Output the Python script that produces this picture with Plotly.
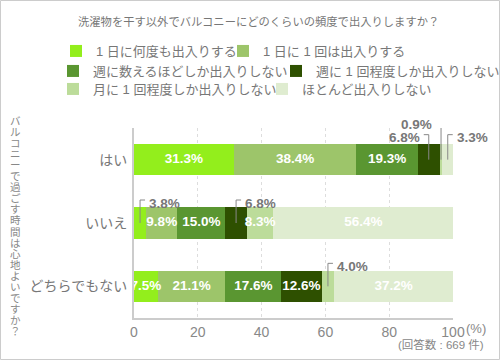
import plotly.graph_objects as go

# ---------------- data ----------------
categories = ["はい", "いいえ", "どちらでもない"]
series_names = [
    "1 日に何度も出入りする",
    "1 日に 1 回は出入りする",
    "週に数えるほどしか出入りしない",
    "週に 1 回程度しか出入りしない",
    "月に 1 回程度しか出入りしない",
    "ほとんど出入りしない",
]
s1_values = [31.3, 3.8, 7.5]
s2_values = [38.4, 9.8, 21.1]
s3_values = [19.3, 15.0, 17.6]
s4_values = [6.8, 6.8, 12.6]
s5_values = [0.9, 8.3, 4.0]
s6_values = [3.3, 56.4, 37.2]
series_values = [s1_values, s2_values, s3_values, s4_values, s5_values, s6_values]

x_tick_values = [0, 20, 40, 60, 80, 100]
x_tick_labels = ["0", "20", "40", "60", "80", "100"]

title_text = "洗濯物を干す以外でバルコニーにどのくらいの頻度で出入りしますか？"
y_title_text = "バルコニーで過ごす時間は心地よいですか？"
x_unit_text = "(%)"
note_text = "(回答数 : 669 件)"

# ---------------- style ----------------
colors = ["#93ee1c", "#9dc56a", "#5a9631", "#2e5000", "#bcdc9a", "#dfecd0"]
FONT = "Liberation Sans, Noto Sans CJK JP, sans-serif"
GRAY = "#777777"
L, R, T, B = 134, 47, 128, 42
W, H = 500, 360
PW, PH = W - L - R, H - T - B
# one legend box per entry, placed in a flowing 3-row layout (left px, row centre px)
legend_slots = [(56, 51), (223, 51), (53, 71), (276, 71), (53, 89), (262, 89)]


def px_x(px):
    return (px - L) / PW


def px_y(py):
    return (T + PH - py) / PH


# labels drawn outside the bar: (category index, series index, side, rise in px)
outside_labels = [
    (0, 3, "left", 22),
    (0, 4, "left", 35),
    (0, 5, "right", 22),
    (1, 0, "right", 20),
    (1, 3, "right", 20),
    (2, 4, "right", 20),
]
outside_keys = {(c, s) for c, s, _, _ in outside_labels}

fig = go.Figure()

legend_ids = ["legend"] + [f"legend{i}" for i in range(2, len(series_names) + 1)]

# stacked bars
for si, (name, vals) in enumerate(zip(series_names, series_values)):
    fig.add_trace(go.Bar(
        y=categories, x=vals, orientation="h", name=name,
        marker=dict(color=colors[si], line=dict(width=0)),
        legend=legend_ids[si], hoverinfo="x+name",
    ))

# segment midpoints
mids = {}
for ci in range(len(categories)):
    acc = 0.0
    for si, vals in enumerate(series_values):
        mids[(ci, si)] = acc + vals[ci] / 2
        acc += vals[ci]

# inside labels
in_x, in_y, in_t = [], [], []
for ci, cat in enumerate(categories):
    for si, vals in enumerate(series_values):
        if (ci, si) in outside_keys:
            continue
        in_x.append(mids[(ci, si)])
        in_y.append(cat)
        in_t.append(f"{vals[ci]:.1f}%")
fig.add_trace(go.Scatter(
    x=in_x, y=in_y, text=in_t, mode="text", showlegend=False, hoverinfo="skip",
    textfont=dict(family=FONT, size=13.5, color="white", weight="bold"),
    cliponaxis=False,
))

# outside labels with leader lines
shapes = []
annotations = []
for ci, si, side, rise in outside_labels:
    xm = mids[(ci, si)]
    v = series_values[si][ci]
    if side == "right":
        path = f"M0,0 L0,{rise + 3} L5,{rise + 3}"
        xanchor, xshift = "left", 7
    else:
        path = f"M0,0 L0,{rise + 3} L-5,{rise + 3}"
        xanchor, xshift = "right", -7
    shapes.append(dict(
        type="path", xref="x", yref="y", xsizemode="pixel", ysizemode="pixel",
        xanchor=xm, yanchor=ci, path=path,
        line=dict(color="#888888", width=1),
    ))
    annotations.append(dict(
        x=xm, y=ci, xref="x", yref="y", text=f"{v:.1f}%", showarrow=False,
        xanchor=xanchor, yanchor="middle", xshift=xshift, yshift=rise,
        font=dict(family=FONT, size=13.5, color=GRAY, weight="bold"),
    ))

# vertical y-axis title (upright characters)
for i, ch in enumerate(y_title_text):
    annotations.append(dict(
        x=px_x(15), y=px_y(120.5 + 11.1 * i), xref="paper", yref="paper",
        text=ch, showarrow=False, xanchor="center", yanchor="middle",
        font=dict(family=FONT, size=10.5, color="#888888"),
    ))

# unit and note
annotations.append(dict(
    x=100, y=px_y(328), xref="x", yref="paper", text=x_unit_text, showarrow=False,
    xanchor="left", yanchor="middle", xshift=11,
    font=dict(family=FONT, size=13, color="#888888"),
))
annotations.append(dict(
    x=px_x(486), y=px_y(344), xref="paper", yref="paper", text=note_text, showarrow=False,
    xanchor="right", yanchor="middle",
    font=dict(family=FONT, size=11.5, color="#888888"),
))

# frame border
shapes.append(dict(
    type="rect", xref="paper", yref="paper",
    x0=px_x(0.5), x1=px_x(W - 0.5), y0=px_y(H - 0.5), y1=px_y(0.5),
    line=dict(color="#cccccc", width=1), layer="above",
))

legend_common = dict(
    orientation="h", xref="paper", yref="paper", xanchor="left", yanchor="middle",
    font=dict(family=FONT, size=13, color=GRAY), bgcolor="rgba(0,0,0,0)",
    itemclick=False, itemdoubleclick=False,
)
legend_layout = {
    lid: dict(**legend_common, x=px_x(lx), y=px_y(ly))
    for lid, (lx, ly) in zip(legend_ids, legend_slots)
}

fig.update_layout(
    width=W, height=H,
    margin=dict(l=L, r=R, t=T, b=B, pad=0, autoexpand=False),
    paper_bgcolor="white", plot_bgcolor="white",
    barmode="stack", bargap=0.51,
    title=dict(text=title_text, x=78 / W, xref="container", xanchor="left",
               y=1 - 22 / H, yref="container", yanchor="middle",
               font=dict(family=FONT, size=11.3, color=GRAY)),
    xaxis=dict(range=[0, 100], tickvals=x_tick_values, ticktext=x_tick_labels,
               showgrid=True, gridcolor="#dddddd", griddash="dot", gridwidth=1,
               showline=True, linecolor="#cccccc", linewidth=2, zeroline=False,
               ticks="", ticklen=0, ticklabelstandoff=0,
               tickfont=dict(family=FONT, size=14, color="#888888"),
               automargin=False, fixedrange=True),
    yaxis=dict(type="category", categoryorder="array", categoryarray=categories,
               range=[2.5, -0.5], showline=True, linecolor="#cccccc", linewidth=2,
               showgrid=False, ticks="", ticklabelstandoff=2,
               tickfont=dict(family=FONT, size=14, color=GRAY),
               automargin=False, fixedrange=True),
    shapes=shapes, annotations=annotations,
    showlegend=True,
    **legend_layout,
)

fig.write_html(
    "out.html",
    config={"displayModeBar": False},
    post_script="document.body.style.margin='0';document.body.style.padding='0';",
)
